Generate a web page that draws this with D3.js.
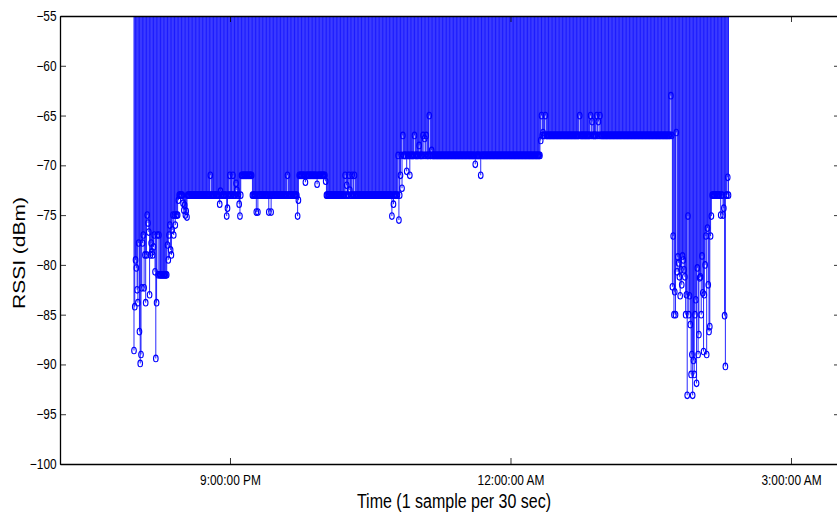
<!DOCTYPE html>
<html>
<head>
<meta charset="utf-8">
<script src="https://cdn.jsdelivr.net/npm/d3@7"></script>
<style>
  body { margin: 0; background: #fff; }
  svg { display: block; }
  text { font-family: "Liberation Sans", Arial, sans-serif; fill: #000; }
</style>
</head>
<body>
<svg id="chart" width="837" height="514"></svg>
<script>
// RSSI readings, one sample per 30 sec, written as [dBm, how many samples in a row]
const rssiRuns = [
  // first minutes, signal still settling
  [-88.6,1],[-84.2,1],[-79.5,1],[-80.3,1],[-82.5,1],[-83.8,1],[-77.8,1],[-86.7,1],[-89.9,1],[-89.0,1],
  [-82.3,1],[-77.8,1],[-77.0,1],[-82.3,1],[-79.0,1],[-83.8,1],[-79.0,1],[-75.0,1],[-75.8,1],[-76.7,1],
  [-83.0,1],[-79.0,1],[-77.8,1],[-78.7,1],[-79.0,1],[-78.2,1],[-77.0,1],[-80.7,1],[-89.4,1],[-83.8,1],
  [-77.0,1],[-81,1],[-77,1],[-81,10],[-78,1],[-79.5,1],[-77,1],[-76,1],[-78.5,1],[-79,1],[-76.5,1],
  [-75,1],[-77,1],[-75,1],[-76,1],[-75,2],[-75,1],[-73.5,1],[-73,5],[-73.8,1],[-74.5,1],[-74,1],[-75,1],
  // around -73
  [-74.6,1],[-75.2,1],[-73,29],[-71,1],[-73,11],[-73.9,1],[-72.6,1],[-73,7],[-75.1,1],[-74.3,1],
  [-73,2],[-71,1],[-73,3],[-71,1],[-73,3],[-71.8,1],[-72.5,1],[-73,2],[-73.9,1],[-75.1,1],[-73,1],
  [-71,14],[-73,5],[-74.7,1],[-73,1],[-74.7,1],[-73,13],[-74.7,1],[-73,2],[-74.7,1],[-73,20],
  [-71,1],[-73,12],[-75.1,1],[-73.5,1],
  // -71 plateau
  [-71,8],[-71.7,1],[-71,14],[-71.9,1],[-71,10],[-71.6,1],
  // back to -73
  [-73,24],[-71,1],[-73,1],[-72,1],[-73,2],[-71,1],[-72.5,1],[-73,2],[-71,1],[-73,2],[-71,1],[-73,47],
  [-75.1,1],[-73,1],[-73.9,1],[-73,5],[-69,1],[-75.5,1],[-73,1],[-71,1],[-69,1],[-72.3,1],
  // -69
  [-67,1],[-69,4],[-70.6,1],[-69,3],[-71,1],[-69,5],[-67,1],[-69,5],[-68,1],[-69,4],[-67,1],
  [-69,1],[-67.3,1],[-69,1],[-67,1],[-69,3],[-65,1],[-69,2],[-68.5,1],
  [-69,55],[-69.9,1],[-69,6],[-71,1],[-69,76],
  // -67
  [-67.5,1],[-65,1],[-67,1],[-66.7,1],[-67,2],[-65,1],
  [-67,43],[-65,1],[-67,13],[-65,1],[-67,1],[-65.6,1],[-67,5],[-65,1],[-67,1],[-65.6,1],[-67,1],
  [-65,1],[-67,90],
  // last half hour, signal breaking up
  [-63,1],[-67,1],[-82.2,1],[-77.1,1],[-85,1],[-82.7,1],[-85,1],[-66.7,1],[-80.7,1],[-79.2,1],
  [-79.8,1],[-81.2,1],[-83.1,1],[-80.5,1],[-82,1],[-79.1,1],[-79.5,1],[-80.5,1],[-81.2,1],[-85,1],
  [-83,1],[-93.1,1],[-75.1,1],[-85,1],[-83.1,1],[-86,1],[-91,1],[-89,1],[-93.1,1],[-89.6,1],
  [-91,1],[-85,1],[-83.5,1],[-91.9,1],[-80.3,1],[-89,1],[-87,1],[-81.3,1],[-81.2,1],[-85,1],
  [-79.1,1],[-82.8,1],[-88.7,1],[-83,1],[-80,1],[-77.1,1],[-89,1],[-76.3,1],[-82,1],[-86.7,1],
  [-86.2,1],[-77.1,1],[-75.1,1],
  [-73,11],[-75,1],[-73,2],[-75,1],[-74.3,1],[-85.1,1],[-90.2,1],[-73,2],[-71.2,1],[-73,1]
];

const firstSample = new Date(2010, 0, 1, 19, 58, 24);
const sampleSeconds = 30;

const yTicks = [-55, -60, -65, -70, -75, -80, -85, -90, -95, -100];
const xTicks = [new Date(2010, 0, 1, 21, 0, 0), new Date(2010, 0, 2, 0, 0, 0), new Date(2010, 0, 2, 3, 0, 0)];
const xTickLabels = ["9:00:00 PM", "12:00:00 AM", "3:00:00 AM"];
const xLimits = [new Date(2010, 0, 1, 19, 10, 55), new Date(2010, 0, 2, 3, 31, 27)];
const yLimits = [-100, -55];

// expand runs into samples
let samples = [];
rssiRuns.forEach(function(r) {
  for (let k = 0; k < r[1]; k++) {
    samples.push({
      t: new Date(firstSample.getTime() + samples.length * sampleSeconds * 1000),
      v: r[0]
    });
  }
});

const svg = d3.select("#chart");
const plotL = 60, plotR = 840, plotT = 16, plotB = 464;

const x = d3.scaleTime().domain(xLimits).range([plotL, plotR]);
const y = d3.scaleLinear().domain(yLimits).range([plotB, plotT]);

svg.append("clipPath").attr("id", "plotArea")
  .append("rect")
  .attr("x", plotL).attr("y", plotT)
  .attr("width", plotR - plotL).attr("height", plotB - plotT);

const plot = svg.append("g").attr("clip-path", "url(#plotArea)");

// stems go from each reading up to the 0 dBm baseline, cut off at the top edge
plot.append("g").selectAll("line")
  .data(samples)
  .enter().append("line")
  .attr("x1", d => x(d.t)).attr("x2", d => x(d.t))
  .attr("y1", d => y(d.v)).attr("y2", y(0))
  .attr("stroke", "#0000ff")
  .attr("stroke-width", 0.85);

plot.append("g").selectAll("ellipse")
  .data(samples)
  .enter().append("ellipse")
  .attr("cx", d => x(d.t)).attr("cy", d => y(d.v))
  .attr("rx", 2.3).attr("ry", 3.3)
  .attr("fill", "none")
  .attr("stroke", "#0000ff")
  .attr("stroke-width", 1.1);

// axes, ticks pointing inward like matlab
const fmt = d => xTickLabels[xTicks.findIndex(t => t.getTime() === d.getTime())];

const xAxisBottom = d3.axisBottom(x).tickValues(xTicks).tickFormat(fmt)
  .tickSizeInner(-6).tickSizeOuter(0).tickPadding(11);
const xAxisTop = d3.axisTop(x).tickValues(xTicks).tickFormat("")
  .tickSizeInner(-6).tickSizeOuter(0);
const yAxisLeft = d3.axisLeft(y).tickValues(yTicks).tickFormat(d3.format("d"))
  .tickSizeInner(-6).tickSizeOuter(0).tickPadding(4);
const yAxisRight = d3.axisRight(y).tickValues(yTicks).tickFormat("")
  .tickSizeInner(-6).tickSizeOuter(0);

function styleAxis(g) {
  g.select(".domain").attr("stroke", "#000").attr("stroke-width", 1.3);
  g.selectAll(".tick line").attr("stroke", "#000").attr("stroke-width", 0.8);
  g.selectAll(".tick text")
    .attr("font-size", 14)
    .attr("font-family", "Liberation Sans, Arial, sans-serif")
    .attr("fill", "#000")
    .attr("transform", "scale(0.85,1)");
}

svg.append("g").attr("transform", `translate(0,${plotB})`).call(xAxisBottom).call(styleAxis);
svg.append("g").attr("transform", `translate(0,${plotT})`).call(xAxisTop).call(styleAxis);
svg.append("g").attr("transform", `translate(${plotL},0)`).call(yAxisLeft).call(styleAxis);
svg.append("g").attr("transform", `translate(${plotR},0)`).call(yAxisRight).call(styleAxis);

// axis titles
svg.append("text")
  .attr("transform", `translate(454,508) scale(0.8,1)`)
  .attr("text-anchor", "middle")
  .attr("font-size", 20)
  .text("Time (1 sample per 30 sec)");

svg.append("text")
  .attr("transform", `translate(25,253) scale(0.8,1) rotate(-90)`)
  .attr("text-anchor", "middle")
  .attr("font-size", 21)
  .text("RSSI (dBm)");
</script>
</body>
</html>
